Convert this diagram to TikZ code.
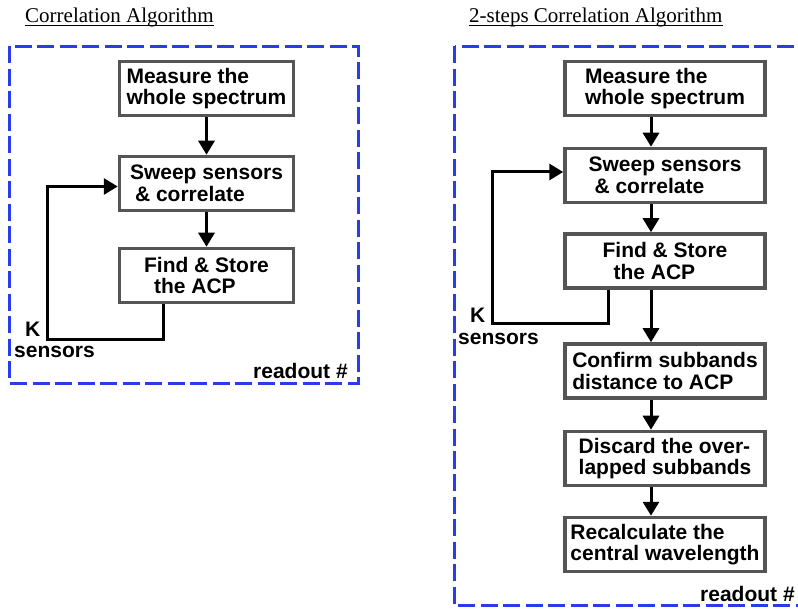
\documentclass[tikz,border=0pt]{standalone}
\usepackage{fontspec}
\setmainfont{Liberation Serif}
\newfontfamily\boxfont{Liberation Sans}
\usetikzlibrary{arrows.meta}
\definecolor{dashblue}{RGB}{40,60,235}
\definecolor{boxgray}{RGB}{85,85,85}
\begin{document}
\begin{tikzpicture}[x=1pt,y=-1pt,
  stepbox/.style={draw=boxgray, line width=3.5pt, fill=white, align=left,
    font=\boxfont\bfseries\fontsize{21}{21.5}\selectfont, inner sep=0pt,
    minimum height=54pt},
  leftbox/.style={stepbox, minimum width=174pt},
  rightbox/.style={stepbox, minimum width=200pt},
  flow/.style={line width=3pt, -{Triangle[width=16pt,length=14pt]}},
  frame/.style={draw=dashblue, line width=3pt, dash pattern=on 17pt off 5.5pt},
  lbl/.style={font=\boxfont\bfseries\fontsize{21}{21.5}\selectfont, inner sep=0pt, anchor=base west},
  titletext/.style={font=\fontsize{21}{24}\selectfont, inner sep=0pt, anchor=base west},
  uline/.style={line width=0.9pt}
]
\useasboundingbox (0,0) rectangle (798,609);
\clip (0,0) rectangle (798,609);

% titles
\node[titletext] (t1) at (25,23) {Correlation Algorithm};
\draw[uline] ([yshift=-2pt]t1.base west) -- ([yshift=-2pt]t1.base east);
\node[titletext] (t2) at (469,23) {2-steps Correlation Algorithm};
\draw[uline] ([yshift=-2pt]t2.base west) -- ([yshift=-2pt]t2.base east);

% frames
\draw[frame] (9.5,46.5) rectangle (358.5,383.5);
\draw[frame] (454.5,46.5) rectangle (830,605.5);

% left flow
\node[leftbox] (m1) at (206.5,88.5) {Measure the\\whole spectrum};
\node[leftbox] (s1) at (206.5,183.5) {Sweep sensors\\\hspace*{5pt}\& correlate};
\node[leftbox] (f1) at (206.5,275.5) {Find \& Store\\\hspace*{10pt}the ACP};
\draw[flow] (m1) -- (s1);
\draw[flow] (s1) -- (f1);
\coordinate (k1) at (47,340);
\draw[flow] ([xshift=-43.5pt]f1.south) |- (k1) |- ([yshift=-3pt]s1.west);
\node[lbl] (kl1) at (25,337) {K};
\node[lbl] (sl1) at (14,358) {sensors};
\node[lbl] (r1) at (253,379) {readout \#};

% right flow
\node[rightbox] (m2) at (665,88.5) {Measure the\\whole spectrum};
\node[rightbox] (s2) at (665,175.5) {Sweep sensors\\\hspace*{6pt}\& correlate};
\node[rightbox] (f2) at (665,261) {Find \& Store\\\hspace*{11pt}the ACP};
\node[rightbox] (c2) at (665,371) {Confirm subbands\\distance to ACP};
\node[rightbox] (d2) at (665,458.5) {Discard the over-\\lapped subbands};
\node[rightbox] (r2) at (665,544.5) {Recalculate the\\central wavelength};
\draw[flow] ([xshift=-14pt]m2.south) -- ([xshift=-14pt]s2.north);
\draw[flow] ([xshift=-14pt]s2.south) -- ([xshift=-14pt]f2.north);
\draw[flow] ([xshift=-14pt]f2.south) -- ([xshift=-14pt]c2.north);
\draw[flow] ([xshift=-14pt]c2.south) -- ([xshift=-14pt]d2.north);
\draw[flow] ([xshift=-14pt]d2.south) -- ([xshift=-14pt]r2.north);
\coordinate (k2) at (492,324);
\draw[flow] ([xshift=-57pt]f2.south) |- (k2) |- ([yshift=3.5pt]s2.west);
\node[lbl] (kl2) at (470,323) {K};
\node[lbl] (sl2) at (458,345) {sensors};
\node[lbl] (ro2) at (700,601) {readout \#};
\end{tikzpicture}
\end{document}
